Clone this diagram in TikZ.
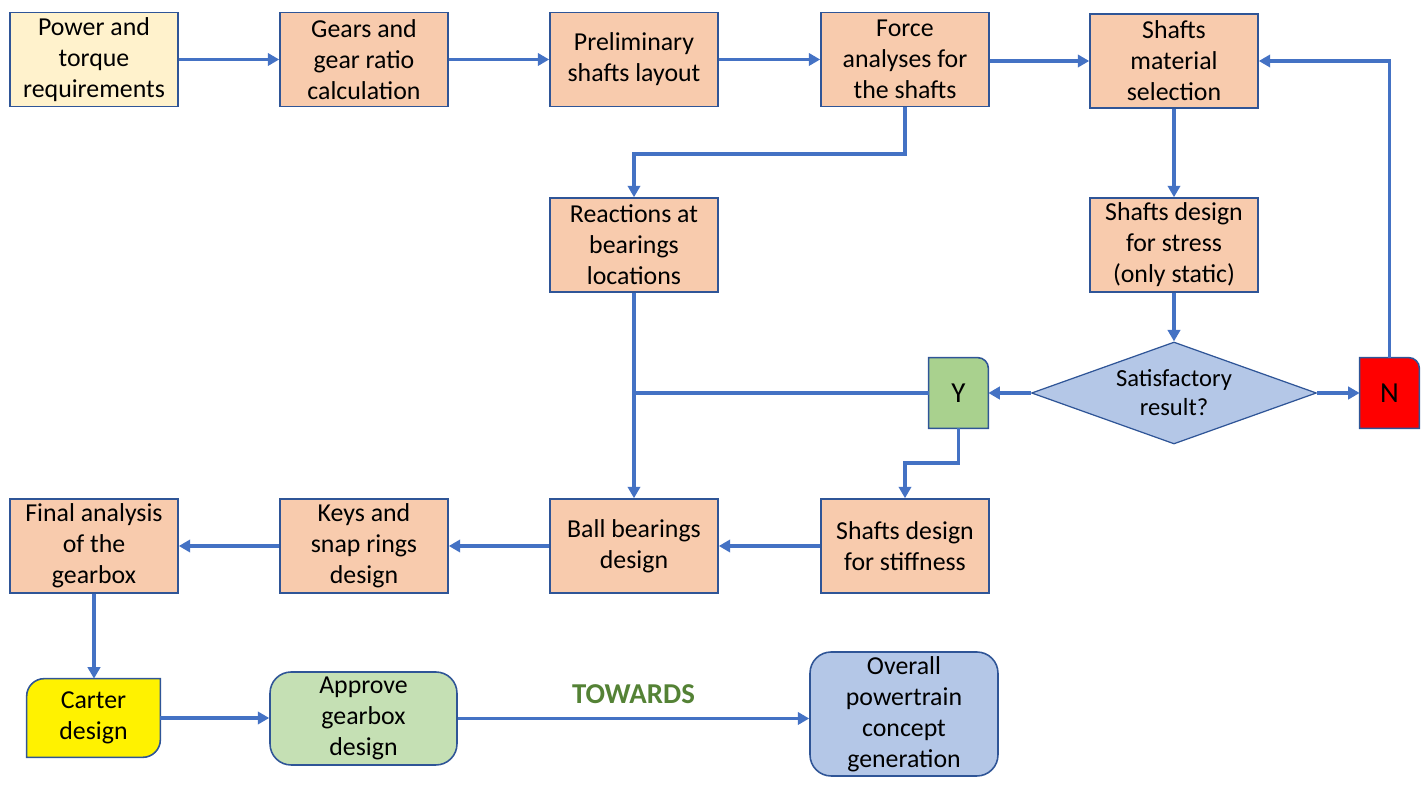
\documentclass[tikz,border=0pt]{standalone}
\usepackage{fontspec}
\setmainfont{Carlito}
\usetikzlibrary{arrows.meta,shapes.geometric}
\definecolor{linkblue}{HTML}{4472C4}
\definecolor{edgeblue}{HTML}{2F5597}
\definecolor{peach}{HTML}{F8CBAD}
\definecolor{cream}{HTML}{FFF2CC}
\definecolor{paleblue}{HTML}{B4C7E7}
\definecolor{yesgreen}{HTML}{A9D18E}
\definecolor{palegreen}{HTML}{C5E0B4}
\definecolor{darkgreen}{HTML}{548235}

\begin{document}
\begin{tikzpicture}[x=0.02cm, y=-0.02cm,
	flow/.style={draw=linkblue, line width=2.1pt, -{Triangle[length=6.5pt,width=7pt]}},
	link/.style={draw=linkblue, line width=2.1pt},
	stepbox/.style={draw=edgeblue, line width=0.9pt, fill=peach, align=center, minimum width=3.36cm, minimum height=1.88cm, inner sep=1pt, font=\fontsize{14.7}{17.6}\selectfont},
	decision/.style={diamond, draw=edgeblue, line width=0.7pt, fill=paleblue, align=center, minimum width=5.7cm, minimum height=2.04cm, inner sep=0pt, aspect=2.8, font=\fontsize{14}{16.4}\selectfont},
	answer/.style={align=center, minimum width=1.18cm, minimum height=1.4cm, inner sep=0pt, font=\fontsize{16.5}{18}\selectfont},
	endbox/.style={draw=edgeblue, line width=0.9pt, rounded corners=12pt, align=center, inner sep=1pt, font=\fontsize{14.7}{17.6}\selectfont}]
	
	\useasboundingbox (0,0) rectangle (1428,786);
	
	% Top row
	\node[stepbox, fill=cream] (power) at (94,59.5) {Power and\\torque\\requirements};
	\node[stepbox] (gears) at (364,59.5) {Gears and\\gear ratio\\calculation};
	\node[stepbox] (layout) at (634,59.5) {Preliminary\\shafts layout};
	\node[stepbox] (force) at (905,59.5) {Force\\analyses for\\the shafts};
	\node[stepbox] (material) at (1174,61) {Shafts\\material\\selection};
	
	% Middle rows
	\node[stepbox] (reactions) at (634,245) {Reactions at\\bearings\\locations};
	\node[stepbox] (stress) at (1174,245) {Shafts design\\for stress\\(only static)};
	\node[decision] (check) at (1174,393) {Satisfactory\\result?};
	\node[answer] (yes) at (958.5,393) {};
	\node[answer] (no) at (1389.5,393) {};
	
	% Y and N boxes with one round corner
	\draw[draw=edgeblue, line width=0.9pt, fill=yesgreen] (yes.south west) -- (yes.north west) -- ([xshift=-6pt]yes.north east) arc[start angle=90, end angle=0, radius=6pt] -- (yes.south east) -- cycle;
	\draw[draw=edgeblue, line width=0.9pt, fill=red] (no.south west) -- (no.north west) -- ([xshift=-6pt]no.north east) arc[start angle=90, end angle=0, radius=6pt] -- (no.south east) -- cycle;
	\node[answer] at (yes) {Y};
	\node[answer] at (no) {N};
	
	% Bottom row
	\node[stepbox] (final) at (94,546) {Final analysis\\of the\\gearbox};
	\node[stepbox] (keys) at (364,546) {Keys and\\snap rings\\design};
	\node[stepbox] (ball) at (634,546) {Ball bearings\\design};
	\node[stepbox] (stiff) at (905,546) {Shafts design\\for stiffness};
	
	% Last boxes
	\node[minimum width=2.66cm, minimum height=1.56cm, inner sep=0pt] (carter) at (93.5,718) {};
	\draw[draw=edgeblue, line width=0.9pt, fill=yellow] (carter.south west) -- ([yshift=-10pt]carter.north west) arc[start angle=180, end angle=90, radius=10pt] -- (carter.north east) -- ([yshift=10pt]carter.south east) arc[start angle=0, end angle=-90, radius=10pt] -- cycle;
	\node[align=center, font=\fontsize{14.7}{17.6}\selectfont] at (carter) {Carter\\design};
	\node[endbox, fill=palegreen, minimum width=3.74cm, minimum height=1.86cm] (approve) at (363.5,718.5) {Approve\\gearbox\\design};
	\node[endbox, fill=paleblue, minimum width=3.76cm, minimum height=2.48cm] (overall) at (904,714) {Overall\\powertrain\\concept\\generation};
	
	% Connectors
	\draw[flow] (power) -- (gears);
	\draw[flow] (gears) -- (layout);
	\draw[flow] (layout) -- (force);
	\draw[flow] (force.east |- material.west) -- (material.west);
	\draw[flow] (force.south) -- ++(0,47) -| (reactions.north);
	\draw[flow] (material) -- (stress);
	\draw[flow] (stress) -- (check.north);
	\draw[flow] (check.west) -- (yes.east);
	\draw[flow] (check.east) -- (no.west);
	\draw[flow] (no.north) |- (material.east);
	\draw[link] (yes.west) -- (yes.west -| reactions.south);
	\draw[flow] (reactions) -- (ball);
	\draw[flow] (yes.south) -- ++(0,35) -| (stiff.north);
	\draw[flow] (stiff) -- (ball);
	\draw[flow] (ball) -- (keys);
	\draw[flow] (keys) -- (final);
	\draw[flow] (final.south) -- (final.south |- carter.north);
	\draw[flow] (carter.east) -- (carter.east -| approve.west);
	\draw[flow] (approve.east) -- (approve.east -| overall.west) node[midway, above=4pt, text=darkgreen, font=\fontsize{16.4}{18}\selectfont\bfseries] {TOWARDS};
	
\end{tikzpicture}
\end{document}
